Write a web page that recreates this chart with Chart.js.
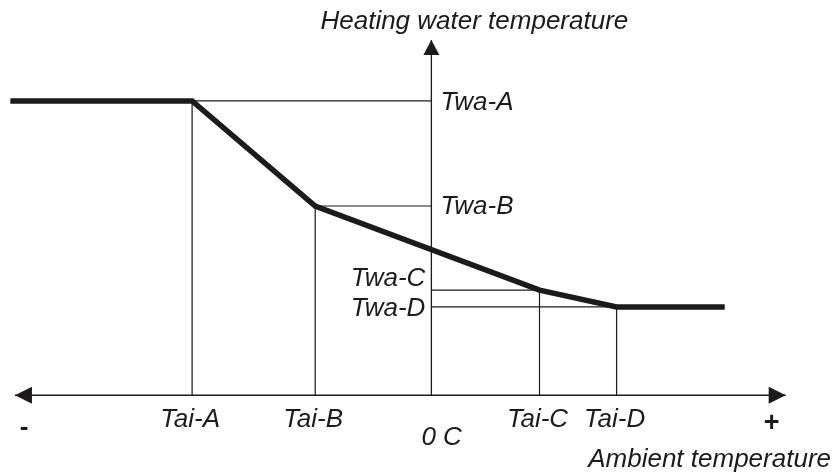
<!DOCTYPE html>
<html>
<head>
<meta charset="utf-8">
<script src="https://cdn.jsdelivr.net/npm/chart.js@4/dist/chart.umd.min.js"></script>
<style>
  html, body { margin: 0; padding: 0; background: #fff; }
  #wrap { width: 834px; height: 473px; }
</style>
</head>
<body>
<div id="wrap"><canvas id="curve" width="834" height="473"></canvas></div>
<script>
// heating curve breakpoints (ambient temp -> heating water temp)
const taiLabels = ['Tai-A', 'Tai-B', 'Tai-C', 'Tai-D'];
const taiValues = [-20.8, -10.1, 9.4, 16.1];
const twaLabels = ['Twa-A', 'Twa-B', 'Twa-C', 'Twa-D'];
const twaValues = [62, 47, 35, 32.6];

// the curve itself, flat before A and after D
const curveX = [-36.6, -20.8, -10.1, 9.4, 16.1, 25.5];
const curveY = [62, 62, 47, 35, 32.6, 32.6];

// axes
const baseTemp = 20;            // water temp where the ambient axis sits
const ambientEnds = [-36.2, 30.8];
const waterTop = 70.7;

const ink = '#1c1a1b';
const font = "italic 26px 'Liberation Sans', Arial, sans-serif";

let datasets = [];

// thin guides from each breakpoint to both axes
for (let i = 0; i < taiValues.length; i++) {
  datasets.push({
    data: [
      { x: 0, y: twaValues[i] },
      { x: taiValues[i], y: twaValues[i] },
      { x: taiValues[i], y: baseTemp }
    ],
    borderColor: ink,
    borderWidth: 1.2
  });
}

// ambient axis
datasets.push({
  data: [{ x: ambientEnds[0], y: baseTemp }, { x: ambientEnds[1], y: baseTemp }],
  borderColor: ink,
  borderWidth: 1.6
});
// water axis
datasets.push({
  data: [{ x: 0, y: baseTemp }, { x: 0, y: waterTop }],
  borderColor: ink,
  borderWidth: 1.3
});

// heating curve
datasets.push({
  data: curveX.map((x, i) => ({ x: x, y: curveY[i] })),
  borderColor: ink,
  borderWidth: 5.5,
  borderJoinStyle: 'miter'
});

function arrow(ctx, tipX, tipY, dx, dy, len, half) {
  // dx,dy = direction the arrow points
  let bx = tipX - dx * len, by = tipY - dy * len;
  ctx.beginPath();
  ctx.moveTo(tipX, tipY);
  ctx.lineTo(bx - dy * half, by + dx * half);
  ctx.lineTo(bx + dy * half, by - dx * half);
  ctx.closePath();
  ctx.fill();
}

function text(ctx, str, x, y, align, f) {
  ctx.font = f || font;
  ctx.textAlign = align;
  ctx.textBaseline = 'alphabetic';
  ctx.fillText(str, x, y);
}

const annotations = {
  id: 'annotations',
  afterDatasetsDraw(chart) {
    const ctx = chart.ctx;
    const xs = chart.scales.x, ys = chart.scales.y;
    const px = v => xs.getPixelForValue(v);
    const py = v => ys.getPixelForValue(v);
    const x0 = px(0), yBase = py(baseTemp);

    ctx.save();
    ctx.fillStyle = ink;

    // arrow heads
    arrow(ctx, px(ambientEnds[0]), yBase, -1, 0, 17, 8.5);
    arrow(ctx, px(ambientEnds[1]), yBase, 1, 0, 17, 8.5);
    arrow(ctx, x0, py(waterTop), 0, -1, 15, 8);

    // axis titles
    text(ctx, 'Heating water temperature', x0 + 43, py(waterTop) - 11, 'center');
    text(ctx, 'Ambient temperature', chart.width - 3, yBase + 72, 'right');
    text(ctx, '-', px(ambientEnds[0]) + 9, yBase + 40, 'center', "bold 26px 'Liberation Sans', Arial, sans-serif");
    text(ctx, '+', px(ambientEnds[1]) - 14, yBase + 36, 'center', "bold 27px 'Liberation Sans', Arial, sans-serif");
    text(ctx, '0 C', x0 - 10, yBase + 50, 'left');

    // breakpoint labels
    taiLabels.forEach((t, i) => {
      text(ctx, t, px(taiValues[i]) - 2, yBase + 32, 'center');
    });
    const twaDy = [9, 8, -4, 9];
    twaLabels.forEach((t, i) => {
      const y = py(twaValues[i]) + twaDy[i];
      if (i < 2) text(ctx, t, x0 + 9, y, 'left');
      else text(ctx, t, x0 - 6, y, 'right');
    });

    ctx.restore();
  }
};

new Chart(document.getElementById('curve'), {
  type: 'scatter',
  data: { datasets: datasets },
  options: {
    responsive: false,
    devicePixelRatio: 1,
    animation: false,
    showLine: true,
    layout: { padding: 0 },
    elements: {
      point: { radius: 0, hoverRadius: 0 },
      line: { tension: 0, fill: false }
    },
    scales: {
      x: { type: 'linear', min: -37.5, max: 35, display: false },
      y: { type: 'linear', min: 8.9, max: 76.4, display: false }
    },
    plugins: {
      legend: { display: false },
      tooltip: { enabled: false }
    }
  },
  plugins: [annotations]
});
</script>
</body>
</html>
